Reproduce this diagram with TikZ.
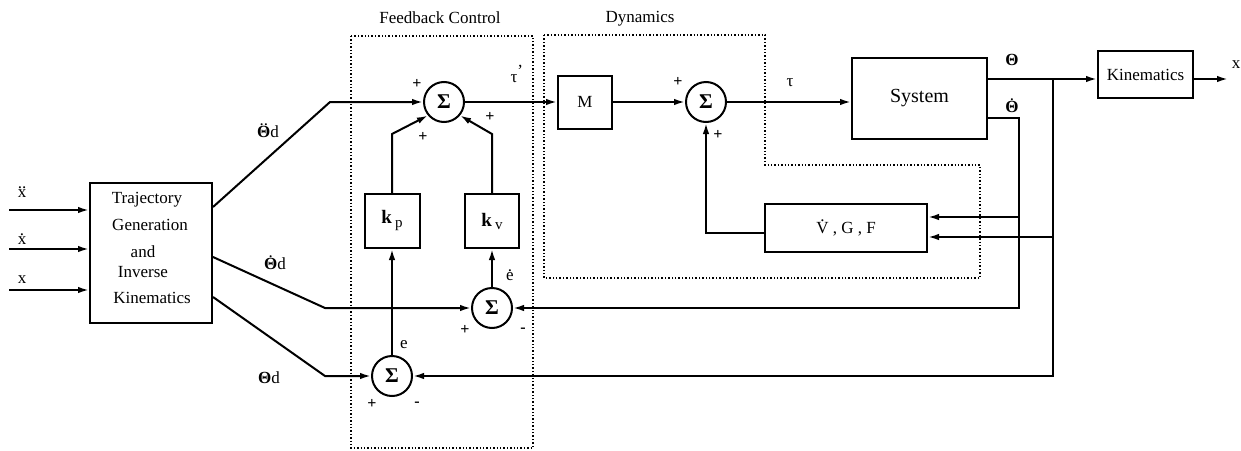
\documentclass[tikz,border=0pt]{standalone}
\usepackage{fontspec}
\setmainfont{Liberation Serif}
\usetikzlibrary{arrows.meta}
\newcommand\topdot[2]{\leavevmode\setbox0\hbox{#2}\hbox{\rlap{\hbox to\wd0{\hfil\raisebox{\dimexpr\ht0+0.5pt\relax}{#1}\hfil}}\box0}}
\tikzset{
 line/.style={line width=2pt},
 arr/.style={line width=2pt,-{Latex[length=11pt,width=6.5pt]}},
 blk/.style={draw,line width=2pt,inner sep=0pt,font=\fontsize{17}{20}\selectfont},
 sumc/.style={draw,circle,line width=2pt,minimum size=40pt,inner sep=0pt,font=\fontsize{21}{22}\selectfont\bfseries},
 lbl/.style={inner sep=0pt,font=\fontsize{17}{20}\selectfont},
 sgn/.style={inner sep=0pt,font=\fontsize{16}{16}\selectfont\bfseries},
 grp/.style={line width=1.4pt,dash pattern=on 1.4pt off 2pt},
}
\begin{document}
\begin{tikzpicture}[x=1pt,y=-1pt]
\useasboundingbox (0,0) rectangle (1241,450);
% group frames
\draw[grp] (351,36) rectangle (533,448);
\draw[grp] (544,35) -- (765,35) -- (765,165) -- (980,165) -- (980,278) -- (544,278) -- cycle;
\node[lbl,anchor=base] (tfb) at (440,23) {Feedback Control};
\node[lbl,anchor=base] (tdy) at (640,22) {Dynamics};
% trajectory block
\node[blk,minimum width=122pt,minimum height=140pt] (traj) at (151,253) {};
\node[lbl,anchor=base] (t1) at (147,203) {Trajectory};
\node[lbl,anchor=base] (t2) at (150,230) {Generation};
\node[lbl,anchor=base] (t3) at (143,257) {and};
\node[lbl,anchor=base] (t4) at (143,277) {Inverse};
\node[lbl,anchor=base] (t5) at (152,303) {Kinematics};
% inputs
\coordinate (i1) at (9,210);
\coordinate (i2) at (9,249);
\coordinate (i3) at (9,290);
\draw[arr] (i1) -- (i1 -| traj.west);
\draw[arr] (i2) -- (i2 -| traj.west);
\draw[arr] (i3) -- (i3 -| traj.west);
\node[lbl,anchor=base] (lx2) at (22,197) {\topdot{..}{x}};
\node[lbl,anchor=base] (lx1) at (22,244) {\topdot{.}{x}};
\node[lbl,anchor=base] (lx0) at (22,283) {x};
% summing junctions
\node[sumc] (s1) at (444,102) {Σ};
\node[sumc] (s2) at (492,308) {Σ};
\node[sumc] (s3) at (392,376) {Σ};
\node[sumc] (s4) at (706,102) {Σ};
% blocks
\node[blk,minimum width=55pt,minimum height=54pt,font=\fontsize{19}{20}\selectfont] (kp) at (392,221) {\textbf{k}\,\raisebox{-4pt}{\fontsize{15}{15}\selectfont p}};
\node[blk,minimum width=54pt,minimum height=54pt,font=\fontsize{19}{20}\selectfont] (kv) at (492,221) {\textbf{k}\,\raisebox{-3pt}{\fontsize{15}{15}\selectfont v}};
\node[blk,minimum width=54pt,minimum height=53pt] (M) at (585,102) {M};
\node[blk,minimum width=135pt,minimum height=81pt,font=\fontsize{20}{22}\selectfont] (sys) at (919.5,98.5) {System};
\node[blk,minimum width=162pt,minimum height=48pt] (vgf) at (846,228) {\topdot{.}{V} , G , F};
\node[blk,minimum width=95pt,minimum height=47pt] (kin) at (1145.5,74.5) {Kinematics};
% trajectory outputs
\coordinate (c1) at (330,102);
\coordinate (c2) at (325,308);
\coordinate (c3) at (325,376);
\draw[arr] ([yshift=46pt]traj.east) -- (c1) -- (s1.west);
\draw[arr] ([yshift=-4pt]traj.east) -- (c2) -- (s2.west);
\draw[arr] ([yshift=-44pt]traj.east) -- (c3) -- (s3.west);
\node[lbl,anchor=base] (ltdd) at (268,137) {\topdot{..}{\textbf{Θ}}d};
\node[lbl,anchor=base] (ltd1) at (275,269) {\topdot{.}{\textbf{Θ}}d};
\node[lbl,anchor=base] (ltd0) at (269,383) {\textbf{Θ}d};
% feedback control
\draw[arr] (kp.north) -- ++(0,-59) -- (s1.220);
\draw[arr] (kv.north) -- ++(0,-59) -- (s1.320);
\draw[arr] (s2.north) -- (kv.south);
\draw[arr] (s3.north) -- (kp.south);
\draw[arr] (s1.east) -- (M.west);
\draw[arr] (M.east) -- (s4.west);
\draw[arr] (s4.east) -- (s4.east -| sys.west);
% outputs
\coordinate (jt) at (1053,79);
\coordinate (jt1) at (1053,237);
\coordinate (jt2) at (1053,376);
\coordinate (jd) at (1019,118);
\coordinate (jd1) at (1019,217);
\coordinate (jd2) at (1019,308);
\coordinate (xo) at (1228,79);
\draw[arr] (jt -| sys.east) -- (jt -| kin.west);
\draw[arr] (jt -| kin.east) -- (xo);
\draw[arr] (jt) -- (jt2) -- (s3.east);
\draw[arr] (jt1) -- (jt1 -| vgf.east);
\draw[arr] (jd -| sys.east) -- (jd) -- (jd2) -- (s2.east);
\draw[arr] (jd1) -- (jd1 -| vgf.east);
\coordinate (vo) at (706,233);
\draw[arr] (vo -| vgf.west) -- (vo) -- (s4.south);
% labels
\node[lbl,anchor=base] (lth) at (1012,65) {\textbf{Θ}};
\node[lbl,anchor=base] (lthd) at (1012,112) {\topdot{.}{\textbf{Θ}}};
\node[lbl,anchor=base] (lxo) at (1236,68) {x};
\node[lbl,anchor=base] (ltaup) at (514,82) {τ\rlap{\raisebox{6pt}{’}}};
\node[lbl,anchor=base] (ltau) at (790,86) {τ};
\node[lbl,anchor=base] (le) at (404,348) {e};
\node[lbl,anchor=base] (led) at (510,280) {\topdot{.}{e}};
% signs
\node[sgn] (p1) at (417,84) {+};
\node[sgn] (p2) at (423,137) {+};
\node[sgn] (p3) at (490,117) {+};
\node[sgn] (p4) at (678,82) {+};
\node[sgn] (p5) at (718,135) {+};
\node[sgn] (p6) at (465,330) {+};
\node[sgn] (m6) at (523,330) {-};
\node[sgn] (p7) at (372,404) {+};
\node[sgn] (m7) at (417,404) {-};
\end{tikzpicture}
\end{document}
